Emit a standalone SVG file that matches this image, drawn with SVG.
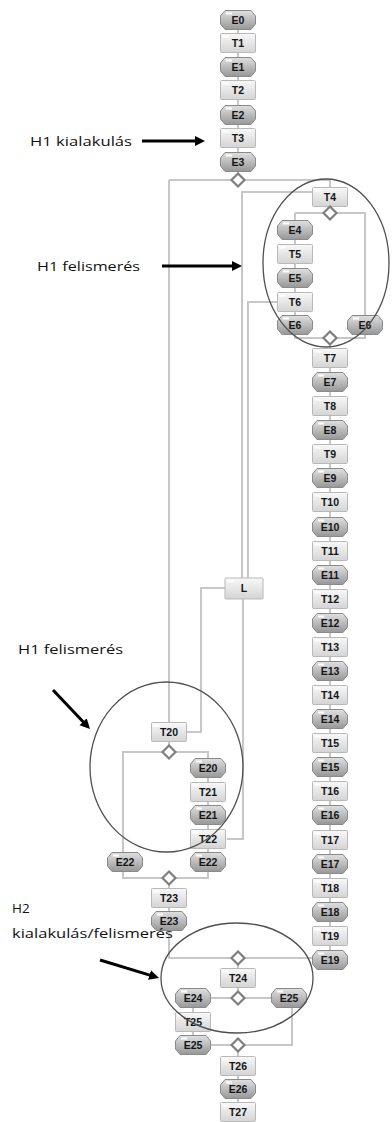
<svg xmlns="http://www.w3.org/2000/svg" xmlns:xlink="http://www.w3.org/1999/xlink" width="392" height="1122" viewBox="0 0 392 1122">
  <style>
    .bg { fill: #ffffff; }
    .tb { fill: url(#gT); stroke: #b9b9b9; stroke-width: 1; }
    .eb { fill: url(#gE); stroke: #8a8a8a; stroke-width: 1; }
    .gw { fill: #ffffff; stroke: #7e7e7e; stroke-width: 2.2; }
    .lb { font-family: "Liberation Sans", Arial, sans-serif; font-weight: bold; font-size: 10.5px; fill: #151515; text-anchor: middle; }
    .cn { fill: none; stroke: #c7c7c7; stroke-width: 2; }
    .ring { fill: none; stroke: #505050; stroke-width: 1.3; }
    .note { font-family: "Open Sans", "Liberation Sans", sans-serif; font-size: 13.5px; fill: #111111; }
    .arr { fill: none; stroke: #000000; stroke-width: 3; marker-end: url(#head); }
  </style>
  <defs>
    <linearGradient id="gT" x1="0" y1="0" x2="0" y2="1">
      <stop offset="0" stop-color="#f8f8f8"/>
      <stop offset="1" stop-color="#d4d4d4"/>
    </linearGradient>
    <linearGradient id="gE" x1="0" y1="0" x2="0" y2="1">
      <stop offset="0" stop-color="#e0e0e0"/>
      <stop offset="1" stop-color="#979797"/>
    </linearGradient>
    <marker id="head" markerUnits="userSpaceOnUse" markerWidth="11" markerHeight="11" refX="2" refY="5" orient="auto">
      <path d="M0,0 L10,5 L0,10 z" fill="#000000"/>
    </marker>
    <!-- task box -->
    <g id="tbox">
      <rect x="-17.5" y="-9.5" width="35" height="19" rx="1" class="tb"/>
      <rect x="-15.5" y="-7.5" width="6" height="2" fill="#ffffff"/>
    </g>
    <!-- event box -->
    <g id="ebox">
      <polygon points="-13,-9.5 13,-9.5 17.5,-4 17.5,4 13,9.5 -13,9.5 -17.5,4 -17.5,-4" class="eb"/>
      <rect x="-12" y="-7.5" width="6" height="2" fill="#ffffff"/>
    </g>
    <!-- gateway -->
    <polygon id="gate" points="0,-6.5 6.5,0 0,6.5 -6.5,0" class="gw"/>
  </defs>

  <rect class="bg" x="0" y="0" width="392" height="1122"/>

  <!-- connectors -->
  <g id="connectors" class="cn">
    <path d="M238 29 V180"/>
    <path d="M169 180 H330 V188"/>
    <path d="M169 180 V723"/>
    <path d="M330 206 V213"/>
    <path d="M295 213 H365 V316"/>
    <path d="M295 213 V335"/>
    <path d="M295 334 V338 H365 V334"/>
    <path d="M312 192 H242 V578"/>
    <path d="M277 302 H248 V578"/>
    <path d="M330 338 V970"/>
    <path d="M312 958 H169 V930"/>
    <path d="M238 958 V998"/>
    <path d="M211 998 H272"/>
    <path d="M193 998 V1045 H238"/>
    <path d="M292 1007 V1045 H238"/>
    <path d="M238 1045 V1122"/>
    <path d="M225 588 H201 V732 H187"/>
    <path d="M243 599 V839 H227"/>
    <path d="M169 741 V752"/>
    <path d="M123 852 V752 H208 V862"/>
    <path d="M123 871 V878 H208 V871"/>
    <path d="M169 878 V931"/>
  </g>

  <!-- upper chain -->
  <g id="E0"><use xlink:href="#ebox" x="238" y="20"/><text class="lb" x="238" y="23.5">E0</text></g>
  <g id="T1"><use xlink:href="#tbox" x="238" y="43"/><text class="lb" x="238" y="46.5">T1</text></g>
  <g id="E1"><use xlink:href="#ebox" x="238" y="67"/><text class="lb" x="238" y="70.5">E1</text></g>
  <g id="T2"><use xlink:href="#tbox" x="238" y="90"/><text class="lb" x="238" y="93.5">T2</text></g>
  <g id="E2"><use xlink:href="#ebox" x="238" y="115"/><text class="lb" x="238" y="118.5">E2</text></g>
  <g id="T3"><use xlink:href="#tbox" x="238" y="138"/><text class="lb" x="238" y="141.5">T3</text></g>
  <g id="E3"><use xlink:href="#ebox" x="238" y="162"/><text class="lb" x="238" y="165.5">E3</text></g>
  <g id="G1"><use xlink:href="#gate" x="238" y="180"/></g>

  <!-- first loop -->
  <g id="T4"><use xlink:href="#tbox" x="330" y="197"/><text class="lb" x="330" y="200.5">T4</text></g>
  <g id="G2"><use xlink:href="#gate" x="330" y="213"/></g>
  <g id="E4"><use xlink:href="#ebox" x="295" y="230"/><text class="lb" x="295" y="233.5">E4</text></g>
  <g id="T5"><use xlink:href="#tbox" x="295" y="254"/><text class="lb" x="295" y="257.5">T5</text></g>
  <g id="E5"><use xlink:href="#ebox" x="295" y="278"/><text class="lb" x="295" y="281.5">E5</text></g>
  <g id="T6"><use xlink:href="#tbox" x="295" y="302"/><text class="lb" x="295" y="305.5">T6</text></g>
  <g id="E6a"><use xlink:href="#ebox" x="295" y="325"/><text class="lb" x="295" y="328.5">E6</text></g>
  <g id="E6b"><use xlink:href="#ebox" x="365" y="325"/><text class="lb" x="365" y="328.5">E6</text></g>
  <g id="G3"><use xlink:href="#gate" x="330" y="338"/></g>

  <!-- main chain -->
  <g id="T7"><use xlink:href="#tbox" x="330" y="358"/><text class="lb" x="330" y="361.5">T7</text></g>
  <g id="E7"><use xlink:href="#ebox" x="330" y="382"/><text class="lb" x="330" y="385.5">E7</text></g>
  <g id="T8"><use xlink:href="#tbox" x="330" y="406"/><text class="lb" x="330" y="409.5">T8</text></g>
  <g id="E8"><use xlink:href="#ebox" x="330" y="430"/><text class="lb" x="330" y="433.5">E8</text></g>
  <g id="T9"><use xlink:href="#tbox" x="330" y="454"/><text class="lb" x="330" y="457.5">T9</text></g>
  <g id="E9"><use xlink:href="#ebox" x="330" y="478"/><text class="lb" x="330" y="481.5">E9</text></g>
  <g id="T10"><use xlink:href="#tbox" x="330" y="502"/><text class="lb" x="330" y="505.5">T10</text></g>
  <g id="E10"><use xlink:href="#ebox" x="330" y="527"/><text class="lb" x="330" y="530.5">E10</text></g>
  <g id="T11"><use xlink:href="#tbox" x="330" y="551"/><text class="lb" x="330" y="554.5">T11</text></g>
  <g id="E11"><use xlink:href="#ebox" x="330" y="575"/><text class="lb" x="330" y="578.5">E11</text></g>
  <g id="T12"><use xlink:href="#tbox" x="330" y="599"/><text class="lb" x="330" y="602.5">T12</text></g>
  <g id="E12"><use xlink:href="#ebox" x="330" y="623"/><text class="lb" x="330" y="626.5">E12</text></g>
  <g id="T13"><use xlink:href="#tbox" x="330" y="647"/><text class="lb" x="330" y="650.5">T13</text></g>
  <g id="E13"><use xlink:href="#ebox" x="330" y="671"/><text class="lb" x="330" y="674.5">E13</text></g>
  <g id="T14"><use xlink:href="#tbox" x="330" y="695"/><text class="lb" x="330" y="698.5">T14</text></g>
  <g id="E14"><use xlink:href="#ebox" x="330" y="719"/><text class="lb" x="330" y="722.5">E14</text></g>
  <g id="T15"><use xlink:href="#tbox" x="330" y="743"/><text class="lb" x="330" y="746.5">T15</text></g>
  <g id="E15"><use xlink:href="#ebox" x="330" y="767"/><text class="lb" x="330" y="770.5">E15</text></g>
  <g id="T16"><use xlink:href="#tbox" x="330" y="791"/><text class="lb" x="330" y="794.5">T16</text></g>
  <g id="E16"><use xlink:href="#ebox" x="330" y="815"/><text class="lb" x="330" y="818.5">E16</text></g>
  <g id="T17"><use xlink:href="#tbox" x="330" y="840"/><text class="lb" x="330" y="843.5">T17</text></g>
  <g id="E17"><use xlink:href="#ebox" x="330" y="864"/><text class="lb" x="330" y="867.5">E17</text></g>
  <g id="T18"><use xlink:href="#tbox" x="330" y="888"/><text class="lb" x="330" y="891.5">T18</text></g>
  <g id="E18"><use xlink:href="#ebox" x="330" y="912"/><text class="lb" x="330" y="915.5">E18</text></g>
  <g id="T19"><use xlink:href="#tbox" x="330" y="936"/><text class="lb" x="330" y="939.5">T19</text></g>
  <g id="E19"><use xlink:href="#ebox" x="330" y="960"/><text class="lb" x="330" y="963.5">E19</text></g>

  <!-- link node -->
  <g id="L">
    <rect x="225" y="578" width="38" height="21" rx="1" class="tb"/>
    <rect x="227" y="580" width="6" height="2" fill="#ffffff"/>
    <text class="lb" x="244" y="592">L</text>
  </g>

  <!-- second loop -->
  <g id="T20"><use xlink:href="#tbox" x="169" y="732"/><text class="lb" x="169" y="735.5">T20</text></g>
  <g id="G4"><use xlink:href="#gate" x="169" y="752"/></g>
  <g id="E20"><use xlink:href="#ebox" x="208" y="768"/><text class="lb" x="208" y="771.5">E20</text></g>
  <g id="T21"><use xlink:href="#tbox" x="208" y="792"/><text class="lb" x="208" y="795.5">T21</text></g>
  <g id="E21"><use xlink:href="#ebox" x="208" y="815"/><text class="lb" x="208" y="818.5">E21</text></g>
  <g id="T22"><use xlink:href="#tbox" x="208" y="839"/><text class="lb" x="208" y="842.5">T22</text></g>
  <g id="E22b"><use xlink:href="#ebox" x="208" y="862"/><text class="lb" x="208" y="865.5">E22</text></g>
  <g id="E22a"><use xlink:href="#ebox" x="125" y="862"/><text class="lb" x="125" y="865.5">E22</text></g>
  <g id="G5"><use xlink:href="#gate" x="169" y="878"/></g>
  <g id="T23"><use xlink:href="#tbox" x="169" y="898"/><text class="lb" x="169" y="901.5">T23</text></g>
  <g id="E23"><use xlink:href="#ebox" x="169" y="921"/><text class="lb" x="169" y="924.5">E23</text></g>

  <!-- third loop -->
  <g id="G6"><use xlink:href="#gate" x="238" y="958"/></g>
  <g id="T24"><use xlink:href="#tbox" x="238" y="978"/><text class="lb" x="238" y="981.5">T24</text></g>
  <g id="G7"><use xlink:href="#gate" x="238" y="998"/></g>
  <g id="E24"><use xlink:href="#ebox" x="193" y="998"/><text class="lb" x="193" y="1001.5">E24</text></g>
  <g id="E25b"><use xlink:href="#ebox" x="289" y="998"/><text class="lb" x="289" y="1001.5">E25</text></g>
  <g id="T25"><use xlink:href="#tbox" x="193" y="1022"/><text class="lb" x="193" y="1025.5">T25</text></g>
  <g id="E25a"><use xlink:href="#ebox" x="193" y="1045"/><text class="lb" x="193" y="1048.5">E25</text></g>
  <g id="G8"><use xlink:href="#gate" x="238" y="1045"/></g>
  <g id="T26"><use xlink:href="#tbox" x="238" y="1066"/><text class="lb" x="238" y="1069.5">T26</text></g>
  <g id="E26"><use xlink:href="#ebox" x="238" y="1089"/><text class="lb" x="238" y="1092.5">E26</text></g>
  <g id="T27"><use xlink:href="#tbox" x="238" y="1112"/><text class="lb" x="238" y="1115.5">T27</text></g>

  <!-- phase rings -->
  <ellipse class="ring" cx="326" cy="263" rx="63" ry="84"/>
  <ellipse class="ring" cx="166.5" cy="767" rx="76.5" ry="85"/>
  <ellipse class="ring" cx="237" cy="978" rx="76" ry="55"/>

  <!-- notes -->
  <g id="notes">
    <text class="note" x="30" y="146" textLength="102" lengthAdjust="spacingAndGlyphs">H1 kialakulás</text>
    <path class="arr" d="M142 141 H197"/>
    <text class="note" x="37" y="271" textLength="103" lengthAdjust="spacingAndGlyphs">H1 felismerés</text>
    <path class="arr" d="M162 266 H234"/>
    <text class="note" x="18" y="654" textLength="105" lengthAdjust="spacingAndGlyphs">H1 felismerés</text>
    <path class="arr" d="M53 690 L84.5 723.2"/>
    <text class="note" x="12" y="913">H2</text>
    <text class="note" x="12" y="938" textLength="161" lengthAdjust="spacingAndGlyphs">kialakulás/felismerés</text>
    <path class="arr" d="M100 960 L151.4 975.6"/>
  </g>
</svg>
